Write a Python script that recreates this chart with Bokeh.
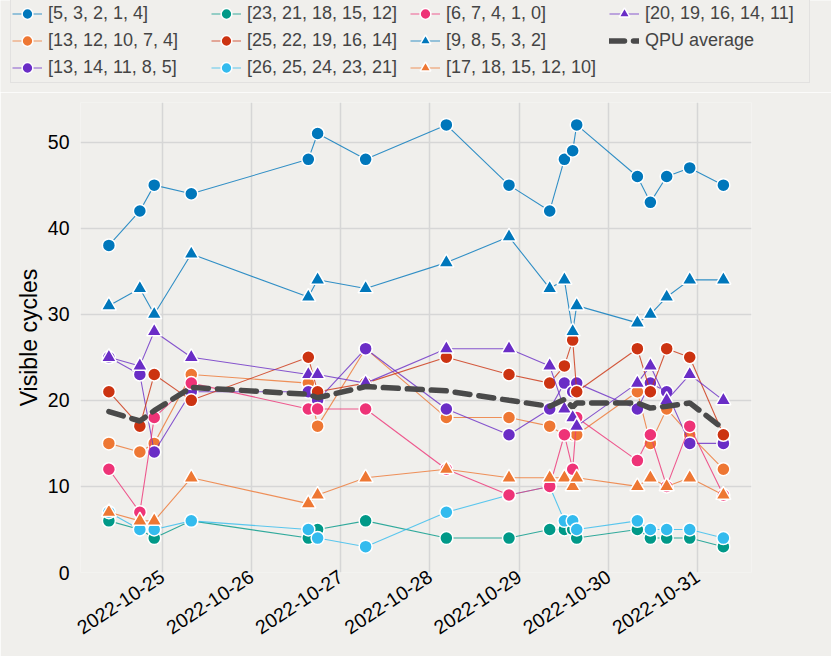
import math
import pandas as pd
from bokeh.plotting import figure
from bokeh.layouts import column
from bokeh.models import Legend, LegendItem, DatetimeTickFormatter, FixedTicker, SingleIntervalTicker, Range1d
from bokeh.embed import file_html
from bokeh.resources import INLINE

times = ["2022-10-24 09:38", "2022-10-24 17:58", "2022-10-24 21:50", "2022-10-25 07:48",
         "2022-10-26 15:17", "2022-10-26 17:47", "2022-10-27 06:42", "2022-10-28 04:25",
         "2022-10-28 21:16", "2022-10-29 08:13", "2022-10-29 12:10", "2022-10-29 14:24",
         "2022-10-29 15:29", "2022-10-30 07:48", "2022-10-30 11:18", "2022-10-30 15:41",
         "2022-10-30 21:53", "2022-10-31 06:56"]

labels = ["[5, 3, 2, 1, 4]", "[13, 12, 10, 7, 4]", "[13, 14, 11, 8, 5]",
          "[23, 21, 18, 15, 12]", "[25, 22, 19, 16, 14]", "[26, 25, 24, 23, 21]",
          "[6, 7, 4, 1, 0]", "[9, 8, 5, 3, 2]", "[17, 18, 15, 12, 10]",
          "[20, 19, 16, 14, 11]"]

s_5_3_2_1_4 = [38, 42, 45, 44, 48, 51, 48, 52, 45, 42, 48, 49, 52, 46, 43, 46, 47, 45]
s_13_12_10_7_4 = [15, 14, 15, 23, 22, 17, 26, 18, 18, 17, 16, 16, 16, 21, 15, 19, 16, 12]
s_13_14_11_8_5 = [25, 23, 14, 21, 21, 20, 26, 19, 16, 19, 22, 21, 22, 19, 22, 21, 15, 15]
s_23_21_18_15_12 = [6, 5, 4, 6, 4, 5, 6, 4, 4, 5, 5, 5, 4, 5, 4, 4, 4, 3]
s_25_22_19_16_14 = [21, 17, 23, 20, 25, 21, 22, 25, 23, 22, 24, 27, 21, 26, 21, 26, 25, 16]
s_26_25_24_23_21 = [7, 5, 5, 6, 5, 4, 3, 7, 9, 10, 6, 6, 5, 6, 5, 5, 5, 4]
s_6_7_4_1_0 = [12, 7, 18, 22, 19, 19, 19, 12, 9, 10, 16, 12, 18, 13, 16, 10, 17, 9]
s_9_8_5_3_2 = [31, 33, 30, 37, 32, 34, 33, 36, 39, 33, 34, 28, 31, 29, 30, 32, 34, 34]
s_17_18_15_12_10 = [7, 6, 6, 11, 8, 9, 11, 12, 11, 11, 11, 10, 11, 10, 11, 10, 11, 9]
s_20_19_16_14_11 = [25, 24, 28, 25, 23, 23, 22, 26, 26, 24, 19, 18, 17, 22, 24, 20, 23, 20]

qpu_average = [18.7, 17.6, 18.8, 21.5, 20.7, 20.3, 21.6, 21.1, 20.0, 19.3, 20.1, 19.2,
               19.7, 19.7, 19.1, 19.3, 19.7, 16.7]

series = [s_5_3_2_1_4, s_13_12_10_7_4, s_13_14_11_8_5, s_23_21_18_15_12,
          s_25_22_19_16_14, s_26_25_24_23_21, s_6_7_4_1_0, s_9_8_5_3_2,
          s_17_18_15_12_10, s_20_19_16_14_11]

colors = ["#0077BB", "#EE7733", "#6A2DC6", "#009988", "#CC3311", "#33BBEE",
          "#EE3377", "#0077BB", "#EE7733", "#6A2DC6"]
markers = ["circle"] * 7 + ["triangle"] * 3

BG = "#F0EFEC"
FONT = "Liberation Sans"
W = 831
LEG_H = 92

x = pd.to_datetime(times)

# legend strip (own figure so that the legend is not clipped by the plot frame)
pl = figure(width=W, height=LEG_H, output_backend="svg", toolbar_location=None,
            x_range=Range1d(0, 1), y_range=Range1d(0, 1),
            min_border_left=0, min_border_right=0, min_border_top=0, min_border_bottom=0)
pl.frame_align = False
pl.background_fill_color = BG
pl.border_fill_color = BG
pl.outline_line_color = None
pl.axis.visible = False
pl.grid.visible = False

p = figure(width=W, height=656 - LEG_H, x_axis_type="datetime",
           output_backend="svg", toolbar_location=None,
           x_range=Range1d(pd.Timestamp("2022-10-24 02:00"), pd.Timestamp("2022-10-31 14:30")),
           y_range=Range1d(0, 54.6),
           min_border_left=80, min_border_right=80, min_border_top=10, min_border_bottom=84)
p.frame_align = False
p.background_fill_color = BG
p.border_fill_color = BG
p.outline_line_color = None

items = []
for lab, vals, col, mk in zip(labels, series, colors, markers):
    sz = 13 if mk == "circle" else 15
    p.line(x, vals, line_color=col, line_width=1.1, line_alpha=0.8)
    p.scatter(x, vals, marker=mk, size=sz, fill_color=col, line_color="white", line_width=1.5)
    l1 = pl.line([-5, -4], [-5, -4], line_color=col, line_width=1.1, line_alpha=0.7)
    l2 = pl.scatter([-5], [-5], marker=mk, size=sz, fill_color=col, line_color="white", line_width=1.5)
    items.append(LegendItem(label=lab, renderers=[l1, l2]))

p.line(x, qpu_average, line_color="#4A4A4A", line_width=5.5, line_dash="15 9", line_cap="round")
la = pl.line([-5, -4], [-5, -4], line_color="#4A4A4A", line_width=5.5, line_dash="15 9", line_cap="round")
items.append(LegendItem(label="QPU average", renderers=[la]))

legend = Legend(items=items, location=(10, 9), orientation="vertical", nrows=3,
                label_text_font=FONT, label_text_font_size="18px",
                background_fill_color=BG, background_fill_alpha=1.0,
                border_line_color="#D4D4D4", border_line_width=1,
                glyph_width=30, glyph_height=27, label_height=27, label_width=163,
                spacing=-4, label_standoff=6, padding=1, margin=0)
pl.add_layout(legend, "center")

p.xaxis.ticker = FixedTicker(ticks=[pd.Timestamp(f"2022-10-{d}").value / 1e6 for d in range(25, 32)])
p.xaxis.formatter = DatetimeTickFormatter(days="%Y-%m-%d", months="%Y-%m-%d", hours="%Y-%m-%d")
p.xaxis.major_label_orientation = 0.58
p.xaxis.major_label_standoff = 2
p.yaxis.ticker = SingleIntervalTicker(interval=10)
p.yaxis.axis_label = "Visible cycles"
p.yaxis.major_label_standoff = 7
p.yaxis.axis_label_standoff = 3

for ax in [p.xaxis[0], p.yaxis[0]]:
    ax.axis_line_color = None
    ax.major_tick_line_color = None
    ax.minor_tick_line_color = None
    ax.major_tick_out = 0
    ax.major_tick_in = 0
    ax.major_label_text_font = FONT
    ax.major_label_text_font_size = "19.5px"
    ax.major_label_text_color = "black"
    ax.axis_label_text_font = FONT
    ax.axis_label_text_font_size = "23px"
    ax.axis_label_text_font_style = "normal"
    ax.axis_label_text_color = "black"

p.grid.grid_line_color = "#D6D6D6"
p.grid.grid_line_width = 1.5

layout = column(pl, p, spacing=0)
open("out.html", "w").write(file_html(layout, INLINE))
